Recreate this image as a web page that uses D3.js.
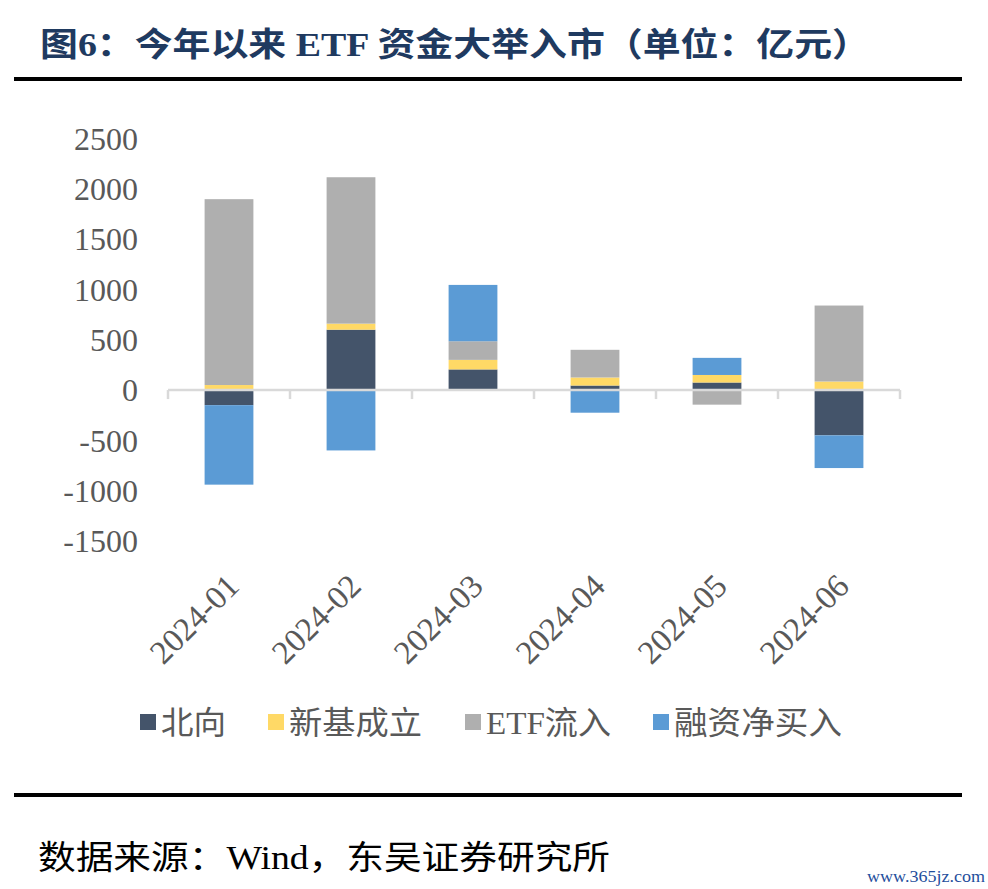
<!DOCTYPE html>
<html>
<head>
<meta charset="utf-8">
<script src="https://cdn.jsdelivr.net/npm/d3@7"></script>
<style>
  html, body { margin: 0; padding: 0; background: #fff; }
  svg { display: block; }
</style>
</head>
<body>
<script>
// ---- data ----
const categories = ["2024-01", "2024-02", "2024-03", "2024-04", "2024-05", "2024-06"];
const seriesNames = ["北向", "新基成立", "ETF流入", "融资净买入"];
const northbound = [-150, 600, 205, 45, 75, -450];
const newFunds = [50, 60, 95, 80, 75, 85];
const etfInflow = [1847, 1455, 185, 275, -145, 755];
const marginBuy = [-790, -600, 560, -225, 170, -325];
const yTicks = [-1500, -1000, -500, 0, 500, 1000, 1500, 2000, 2500];
const colors = ["#44546a", "#ffd966", "#afafaf", "#5b9bd5"];

const W = 988, H = 889;
const serif = "'Liberation Serif', 'Times New Roman', 'Noto Sans CJK SC', serif";

const svg = d3.select("body").append("svg").attr("width", W).attr("height", H);

// title
svg.append("text")
  .attr("x", 40).attr("y", 56)
  .attr("font-family", serif)
  .attr("font-weight", "bold")
  .attr("font-size", 33)
  .attr("fill", "#1f3a60")
  .attr("textLength", 830)
  .attr("lengthAdjust", "spacingAndGlyphs")
  .text("图6：今年以来 ETF 资金大举入市（单位：亿元）");

svg.append("rect").attr("x", 14).attr("y", 77).attr("width", 948).attr("height", 4).attr("fill", "#000");
svg.append("rect").attr("x", 14).attr("y", 793).attr("width", 948).attr("height", 4).attr("fill", "#000");

// data table
const table = categories.map((c, i) => ({
  cat: c,
  "北向": northbound[i],
  "新基成立": newFunds[i],
  "ETF流入": etfInflow[i],
  "融资净买入": marginBuy[i]
}));

const stack = d3.stack().keys(seriesNames).offset(d3.stackOffsetDiverging);
const stacked = stack(table);

const x = d3.scaleBand().domain(categories).range([168, 900]).paddingInner(0.6).paddingOuter(0.3);
const y = d3.scaleLinear().domain([-1500, 2500]).range([541, 138.5]);

// bars
svg.append("g").selectAll("g")
  .data(stacked)
  .join("g")
  .attr("fill", (d, i) => colors[i])
  .selectAll("rect")
  .data(d => d)
  .join("rect")
  .attr("x", d => x(d.data.cat))
  .attr("width", x.bandwidth())
  .attr("y", d => y(Math.max(d[0], d[1])))
  .attr("height", d => Math.abs(y(d[0]) - y(d[1])));

// x axis line at zero
const step = x.step();
const x0 = 168;
svg.append("line")
  .attr("x1", x0).attr("x2", 900)
  .attr("y1", y(0)).attr("y2", y(0))
  .attr("stroke", "#d9d9d9").attr("stroke-width", 2.5);
// tick marks at band boundaries
const boundaries = d3.range(categories.length + 1).map(i => x0 + i * step);
svg.append("g").selectAll("line")
  .data(boundaries)
  .join("line")
  .attr("x1", d => d).attr("x2", d => d)
  .attr("y1", y(0)).attr("y2", y(0) + 9)
  .attr("stroke", "#d9d9d9").attr("stroke-width", 2.5);

// y tick labels
svg.append("g").selectAll("text")
  .data(yTicks)
  .join("text")
  .attr("x", 138)
  .attr("y", d => y(d))
  .attr("dy", "0.35em")
  .attr("text-anchor", "end")
  .attr("font-family", serif)
  .attr("font-size", 32)
  .attr("fill", "#595959")
  .text(d => d);

// x tick labels rotated
svg.append("g").selectAll("text")
  .data(categories)
  .join("text")
  .attr("transform", d => `translate(${x(d) + x.bandwidth() / 2 + 12},${588}) rotate(-45)`)
  .attr("text-anchor", "end")
  .attr("font-family", serif)
  .attr("font-size", 33)
  .attr("fill", "#595959")
  .text(d => d);

// legend
const legendX = [140, 268, 465, 653];
const legendW = [65, 133, 125, 168];
const lg = svg.append("g").selectAll("g")
  .data(seriesNames)
  .join("g")
  .attr("transform", (d, i) => `translate(${legendX[i]},714)`);
lg.append("rect").attr("width", 16).attr("height", 16).attr("fill", (d, i) => colors[i]);
lg.append("text")
  .attr("x", 21).attr("y", 8).attr("dy", "0.36em")
  .attr("font-family", serif)
  .attr("font-size", 32)
  .attr("fill", "#595959")
  .attr("textLength", (d, i) => legendW[i])
  .attr("lengthAdjust", "spacingAndGlyphs")
  .text(d => d);

// source
svg.append("text")
  .attr("x", 38).attr("y", 869)
  .attr("font-family", serif)
  .attr("font-size", 33)
  .attr("fill", "#000")
  .attr("textLength", 572)
  .attr("lengthAdjust", "spacingAndGlyphs")
  .text("数据来源：Wind，东吴证券研究所");

// watermark
svg.append("text")
  .attr("x", 985).attr("y", 882)
  .attr("text-anchor", "end")
  .attr("font-family", serif)
  .attr("font-size", 17)
  .attr("fill", "#1f4e9c")
  .attr("textLength", 118)
  .attr("lengthAdjust", "spacingAndGlyphs")
  .text("www.365jz.com");
</script>
</body>
</html>
